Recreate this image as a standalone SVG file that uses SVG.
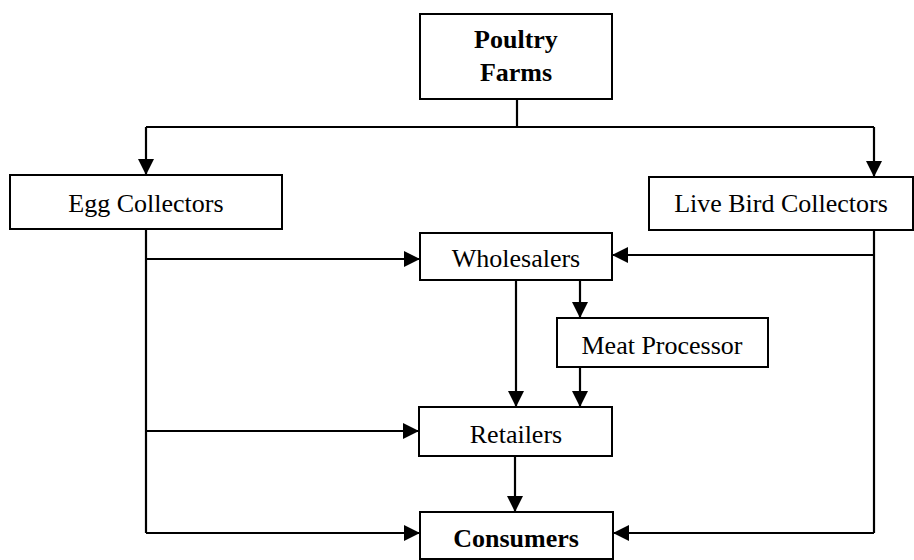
<svg xmlns="http://www.w3.org/2000/svg" width="914" height="560" viewBox="0 0 914 560">
<style>
.box{fill:#fff;stroke:#000;stroke-width:2}
.t{font-family:"Liberation Serif","Times New Roman",serif;font-size:26px;fill:#000;text-anchor:middle}
.b{font-weight:bold}
.c{fill:none;stroke:#000;stroke-width:2.2}
.a{marker-end:url(#ah)}
</style>
<defs>
<marker id="ah" markerUnits="userSpaceOnUse" markerWidth="17" markerHeight="16" refX="16" refY="8" orient="auto">
<path d="M0,0 L16,8 L0,16 z" fill="#000"/>
</marker>
</defs>
<rect width="914" height="560" fill="#fff"/>
<g id="connectors">
<path class="c" d="M517,99 V127"/>
<path class="c" d="M146,127 H874"/>
<path class="c a" d="M146,127 V175"/>
<path class="c a" d="M874,127 V177"/>
<path class="c" d="M146,229 V533"/>
<path class="c a" d="M146,259 H420"/>
<path class="c a" d="M146,431 H419"/>
<path class="c a" d="M146,533 H420"/>
<path class="c" d="M874,230 V533"/>
<path class="c a" d="M874,255 H612"/>
<path class="c a" d="M874,533 H613"/>
<path class="c a" d="M516,280 V407"/>
<path class="c a" d="M580,280 V318"/>
<path class="c a" d="M580,367 V407"/>
<path class="c a" d="M515,456 V512"/>
</g>
<g id="poultry-farms">
<rect class="box" x="420" y="14" width="192" height="85"/>
<text class="t b" x="516" y="48">Poultry</text>
<text class="t b" x="516" y="81">Farms</text>
</g>
<g id="egg-collectors">
<rect class="box" x="10" y="175" width="272" height="54"/>
<text class="t" x="146" y="212">Egg Collectors</text>
</g>
<g id="live-bird-collectors">
<rect class="box" x="649" y="177" width="264" height="53"/>
<text class="t" x="781" y="212">Live Bird Collectors</text>
</g>
<g id="wholesalers">
<rect class="box" x="420" y="233" width="192" height="47"/>
<text class="t" x="516" y="267">Wholesalers</text>
</g>
<g id="meat-processor">
<rect class="box" x="557" y="318" width="211" height="49"/>
<text class="t" x="662" y="354">Meat Processor</text>
</g>
<g id="retailers">
<rect class="box" x="419" y="407" width="193" height="49"/>
<text class="t" x="516" y="443">Retailers</text>
</g>
<g id="consumers">
<rect class="box" x="420" y="512" width="193" height="47"/>
<text class="t b" x="516" y="547">Consumers</text>
</g>
</svg>
